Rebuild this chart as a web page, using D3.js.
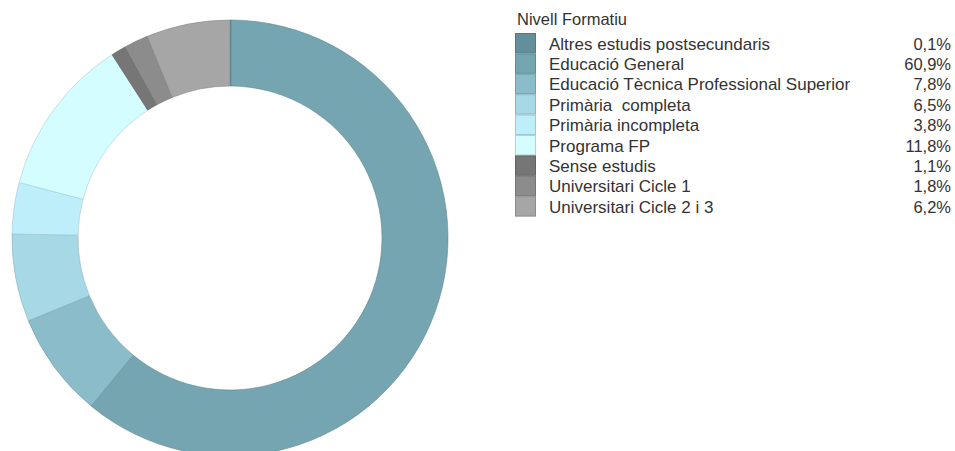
<!DOCTYPE html>
<html>
<head>
<meta charset="utf-8">
<script src="https://cdn.jsdelivr.net/npm/d3@7"></script>
<style>
  body { margin: 0; background: #fff; }
  text { font-family: "Liberation Sans", Arial, sans-serif; white-space: pre; }
</style>
</head>
<body>
<div id="chart"></div>
<script>
var categories = [
    'Altres estudis postsecundaris',
    'Educació General',
    'Educació Tècnica Professional Superior',
    'Primària  completa',
    'Primària incompleta',
    'Programa FP',
    'Sense estudis',
    'Universitari Cicle 1',
    'Universitari Cicle 2 i 3'
];
var values = [0.1, 60.9, 7.8, 6.5, 3.8, 11.8, 1.1, 1.8, 6.2];
var value_labels = ['0,1%', '60,9%', '7,8%', '6,5%', '3,8%', '11,8%', '1,1%', '1,8%', '6,2%'];
var colors = ['#628f9b', '#74a5b0', '#8bbcc9', '#a7d8e6', '#bfeefb', '#d3fdff', '#767676', '#8c8c8c', '#a6a6a6'];

var chart_width = 955;
var chart_height = 451;
var cx = 230, cy = 238;
var outer_r = 218, inner_r = 152;

var svg = d3.select('#chart')
    .append('svg')
    .attr('width', chart_width)
    .attr('height', chart_height);

var pie = d3.pie()
    .sort(null)
    .value(function (d) { return d; });

var arc = d3.arc()
    .innerRadius(inner_r)
    .outerRadius(outer_r);

// donut slices
svg.append('g')
    .attr('transform', 'translate(' + cx + ',' + cy + ')')
    .selectAll('path')
    .data(pie(values))
    .enter()
    .append('path')
    .attr('d', arc)
    .attr('fill', function (d, i) { return colors[i]; })
    .attr('stroke', function (d, i) { return d3.color(colors[i]).darker(0.6); })
    .attr('stroke-width', 0.8)
    .attr('stroke-opacity', 0.7);

// legend
var legend_x = 515, legend_y = 33, row_h = 20.4;

svg.append('text')
    .attr('x', 517)
    .attr('y', 25)
    .attr('font-size', 16.5)
    .attr('fill', '#333')
    .text('Nivell Formatiu');

var y_scale = d3.scaleBand()
    .domain(d3.range(categories.length))
    .range([legend_y, legend_y + row_h * categories.length]);

var rows = svg.selectAll('g.row')
    .data(categories)
    .enter()
    .append('g')
    .attr('class', 'row')
    .attr('transform', function (d, i) { return 'translate(0,' + y_scale(i) + ')'; });

rows.append('rect')
    .attr('x', legend_x + 0.5)
    .attr('y', 0.5)
    .attr('width', 20)
    .attr('height', y_scale.bandwidth() - 1)
    .attr('fill', function (d, i) { return colors[i]; })
    .attr('stroke', function (d, i) { return d3.color(colors[i]).darker(0.5); })
    .attr('stroke-width', 1);

rows.append('text')
    .attr('x', 549)
    .attr('y', y_scale.bandwidth() / 2 + 6.5)
    .attr('font-size', 17)
    .attr('fill', '#333')
    .text(function (d) { return d; });

rows.append('text')
    .attr('x', 951)
    .attr('y', y_scale.bandwidth() / 2 + 6.5)
    .attr('font-size', 16.5)
    .attr('fill', '#333')
    .attr('text-anchor', 'end')
    .text(function (d, i) { return value_labels[i]; });
</script>
</body>
</html>
